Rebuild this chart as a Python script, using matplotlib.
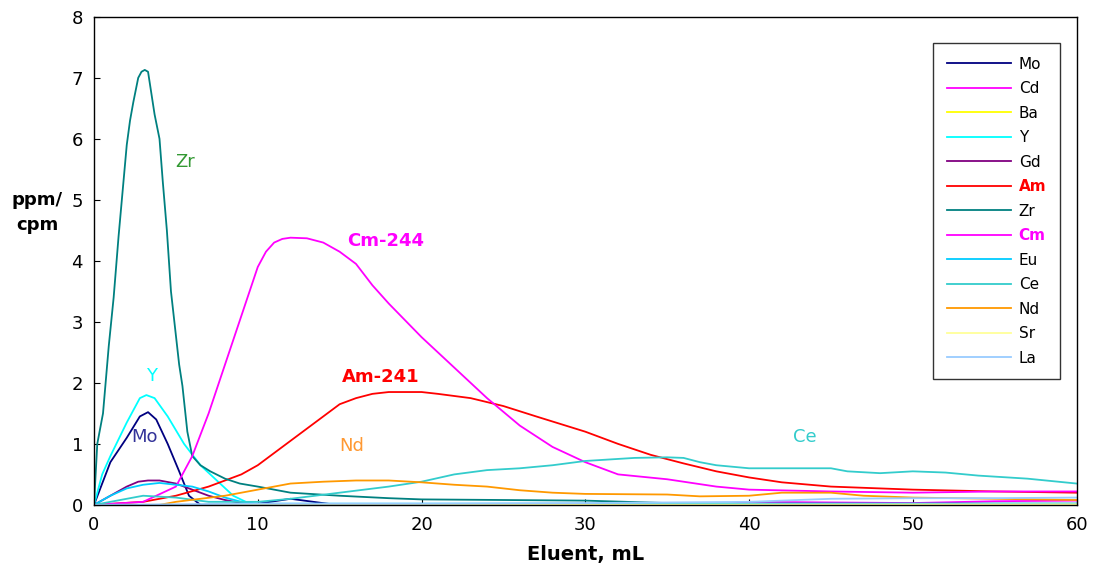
import matplotlib.pyplot as plt

# Elution profiles (ppm for stable elements, cpm for Am/Cm)
zr_x = [0, 0.2, 0.55, 0.9, 1.2, 1.5, 1.7, 2.0, 2.2, 2.4, 2.7, 2.9, 3.1, 3.3, 3.5, 3.7, 4.0, 4.2, 4.45, 4.7, 4.95, 5.2, 5.4, 5.7, 6.0, 6.5, 7.1, 8.0, 8.9, 10, 12, 15, 18, 20, 25, 30, 35, 40, 50, 60]
zr_y = [0, 1.0, 1.5, 2.6, 3.4, 4.4, 5.0, 5.9, 6.3, 6.6, 7.0, 7.1, 7.13, 7.1, 6.75, 6.4, 6.0, 5.3, 4.5, 3.5, 2.9, 2.3, 1.95, 1.2, 0.8, 0.65, 0.55, 0.43, 0.35, 0.3, 0.2, 0.15, 0.11, 0.09, 0.08, 0.07, 0.03, 0.02, 0.02, 0.02]

cm_x = [0, 3, 5, 6, 7, 8, 9, 10, 10.5, 11, 11.5, 12, 13, 14, 15, 16, 17, 18, 20, 22, 24, 26, 28, 30, 32, 35, 38, 40, 45, 50, 55, 60]
cm_y = [0, 0.05, 0.3, 0.8, 1.5, 2.3, 3.1, 3.9, 4.15, 4.3, 4.36, 4.38, 4.37, 4.3, 4.15, 3.95, 3.6, 3.3, 2.75, 2.25, 1.75, 1.3, 0.95, 0.7, 0.5, 0.42, 0.3, 0.25, 0.22, 0.2, 0.22, 0.22]

am_x = [0, 3, 5, 7, 9, 10, 11, 12, 13, 14, 15, 16, 17, 18, 20, 21, 23, 25, 27, 30, 32, 34, 36, 38, 40, 42, 45, 50, 55, 60]
am_y = [0, 0.05, 0.15, 0.3, 0.5, 0.65, 0.85, 1.05, 1.25, 1.45, 1.65, 1.75, 1.82, 1.85, 1.85, 1.82, 1.75, 1.62, 1.45, 1.2, 1.0, 0.82, 0.68, 0.55, 0.45, 0.37, 0.3, 0.25, 0.22, 0.2]

ce_x = [0, 3, 5, 7, 10, 12, 15, 18, 20, 22, 24, 26, 28, 30, 33, 35, 36, 37, 38, 40, 45, 46, 48, 50, 52, 54, 57, 60]
ce_y = [0, 0.15, 0.12, 0.05, 0.05, 0.1, 0.2, 0.3, 0.38, 0.5, 0.57, 0.6, 0.65, 0.72, 0.77, 0.78, 0.77, 0.7, 0.65, 0.6, 0.6, 0.55, 0.52, 0.55, 0.53, 0.48, 0.43, 0.35]

nd_x = [0, 4, 5, 8, 10, 12, 14, 16, 18, 20, 22, 24, 26, 28, 30, 35, 37, 40, 42, 45, 47, 50, 55, 60]
nd_y = [0, 0, 0.05, 0.15, 0.25, 0.35, 0.38, 0.4, 0.4, 0.37, 0.33, 0.3, 0.24, 0.2, 0.18, 0.17, 0.14, 0.15, 0.2, 0.2, 0.15, 0.12, 0.1, 0.08]

y_x = [0, 0.5, 1, 2, 2.8, 3.2, 3.7, 4.5, 5.5, 6.5, 7.5, 8.5, 9.5, 11, 60]
y_y = [0, 0.5, 0.8, 1.35, 1.75, 1.8, 1.75, 1.45, 1.0, 0.65, 0.4, 0.15, 0.02, 0, 0]

mo_x = [0, 1, 2, 2.8, 3.3, 3.8, 4.5, 5.2, 5.8, 6.5, 10, 12, 14.8]
mo_y = [0, 0.7, 1.1, 1.45, 1.52, 1.4, 1.0, 0.55, 0.15, 0.0, 0.02, 0.1, 0.0]

gd_x = [0, 1, 2, 2.7, 3.3, 4, 5, 6, 7, 8, 9, 10, 60]
gd_y = [0, 0.15, 0.3, 0.38, 0.4, 0.4, 0.35, 0.25, 0.15, 0.08, 0.03, 0, 0]

eu_x = [0, 1, 2, 3, 4, 5, 6, 7, 8, 9, 10, 60]
eu_y = [0, 0.15, 0.27, 0.33, 0.36, 0.33, 0.3, 0.22, 0.12, 0.05, 0.02, 0.02]

cd_x = [0, 38, 40, 45, 50, 55, 60]
cd_y = [0, 0, 0.05, 0.04, 0.03, 0.06, 0.07]

ba_x = [0, 60]
ba_y = [0, 0]

sr_x = [0, 60]
sr_y = [0, 0.01]

la_x = [0, 10, 20, 30, 40, 45, 50, 55, 60]
la_y = [0, 0.02, 0.02, 0.03, 0.05, 0.1, 0.11, 0.11, 0.12]

fig = plt.figure(figsize=(10.93, 5.81), dpi=100)
ax = fig.add_axes([0.086, 0.131, 0.899, 0.840])

# plotted in legend order
series = [
    ("Mo", mo_x, mo_y, "#000080"),
    ("Cd", cd_x, cd_y, "#FF00FF"),
    ("Ba", ba_x, ba_y, "#FFFF00"),
    ("Y", y_x, y_y, "#00FFFF"),
    ("Gd", gd_x, gd_y, "#800080"),
    ("Am", am_x, am_y, "#FF0000"),
    ("Zr", zr_x, zr_y, "#008080"),
    ("Cm", cm_x, cm_y, "#FF00FF"),
    ("Eu", eu_x, eu_y, "#00CCFF"),
    ("Ce", ce_x, ce_y, "#33CCCC"),
    ("Nd", nd_x, nd_y, "#FF9900"),
    ("Sr", sr_x, sr_y, "#FFFF99"),
    ("La", la_x, la_y, "#99CCFF"),
]
for name, xs, ys, col in series:
    ax.plot(xs, ys, color=col, lw=1.3, label=name)

ax.set_xlim(0, 60)
ax.set_ylim(0, 8)
ax.set_xticks(range(0, 61, 10))
ax.set_yticks(range(0, 9))
ax.tick_params(direction='in', labelsize=13, length=4, pad=8)
for s in ax.spines.values():
    s.set_linewidth(1.0)

ax.set_xlabel("Eluent, mL", fontsize=14, fontweight='bold', labelpad=8)
ax.text(-0.058, 0.6, "ppm/\ncpm", transform=ax.transAxes, fontsize=13,
        fontweight='bold', ha='center', va='center', linespacing=1.5)

# peak annotations
ax.text(5.56, 5.62, "Zr", color="#339933", fontsize=13, ha='center', va='center')
ax.text(17.8, 4.33, "Cm-244", color="#FF00FF", fontsize=13, fontweight='bold', ha='center', va='center')
ax.text(17.5, 2.1, "Am-241", color="#FF0000", fontsize=13, fontweight='bold', ha='center', va='center')
ax.text(3.5, 2.12, "Y", color="#00FFFF", fontsize=13, ha='center', va='center')
ax.text(3.1, 1.11, "Mo", color="#333399", fontsize=13, ha='center', va='center')
ax.text(15.75, 0.96, "Nd", color="#FF9933", fontsize=13, ha='center', va='center')
ax.text(43.4, 1.11, "Ce", color="#33CCCC", fontsize=13, ha='center', va='center')

leg = ax.legend(loc='upper right', bbox_to_anchor=(0.9925, 0.965), fontsize=11,
                frameon=True, fancybox=False, edgecolor='black', handlelength=4.2,
                labelspacing=0.62, borderpad=0.9, handletextpad=0.5, borderaxespad=0.6)
leg.get_frame().set_linewidth(1.0)
for txt in leg.get_texts():
    if txt.get_text() == "Am":
        txt.set_color("#FF0000")
        txt.set_fontweight('bold')
    elif txt.get_text() == "Cm":
        txt.set_color("#FF00FF")
        txt.set_fontweight('bold')

fig.savefig("out.png", dpi=100)
